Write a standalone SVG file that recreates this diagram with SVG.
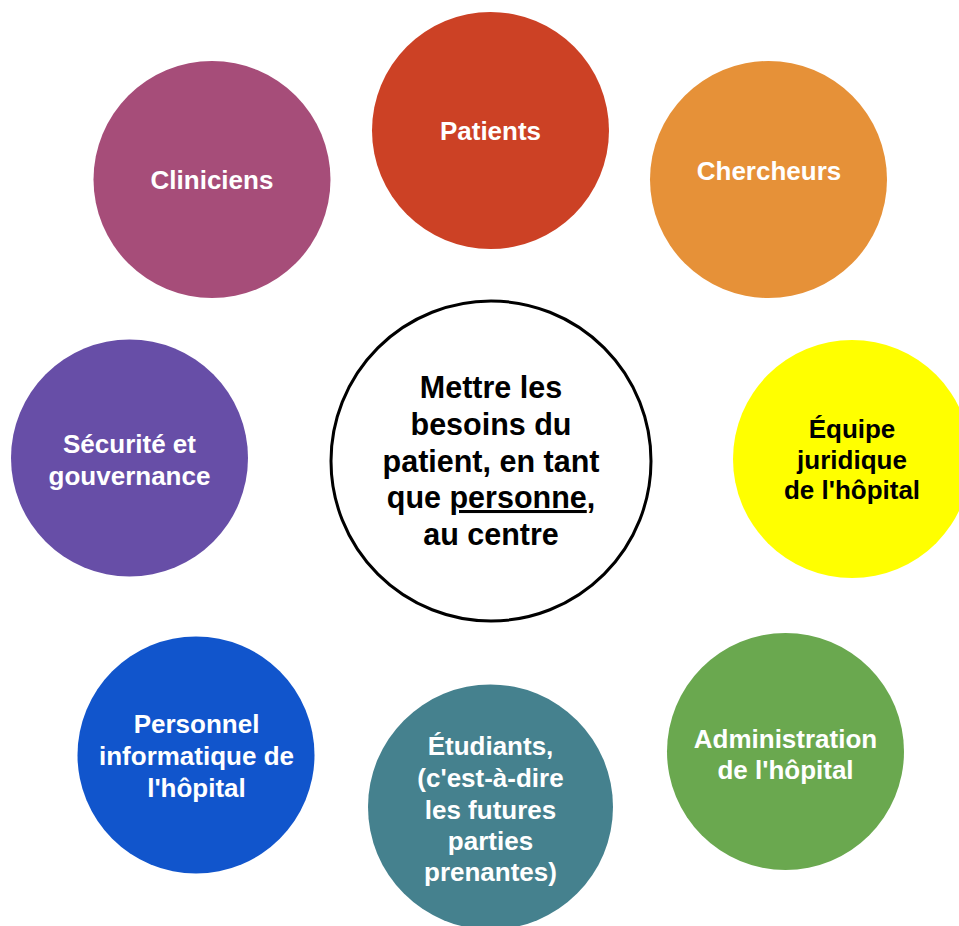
<svg xmlns="http://www.w3.org/2000/svg" width="959" height="926" viewBox="0 0 959 926">
<style>
text{font-family:"Liberation Sans",Arial,sans-serif;font-weight:bold;text-anchor:middle}
.w{fill:#ffffff;font-size:26px}
.k{fill:#000000;font-size:26px}
.c{fill:#000000;font-size:30.5px}
.u{text-decoration:underline}
</style>
<rect width="959" height="926" fill="#ffffff"/>
<g id="connectors"></g>
<g id="patients">
<circle cx="490.5" cy="130.5" r="118.5" fill="#CC4125"/>
<text class="w" x="490.5" y="140">Patients</text>
</g>
<g id="chercheurs">
<circle cx="768.5" cy="179.5" r="118.5" fill="#E69138"/>
<text class="w" x="769" y="179.5">Chercheurs</text>
</g>
<g id="cliniciens">
<circle cx="212" cy="179.5" r="118.5" fill="#A64D79"/>
<text class="w" x="212" y="189">Cliniciens</text>
</g>
<g id="securite">
<circle cx="129.5" cy="458" r="118.5" fill="#674EA7"/>
<text class="w" x="129.5" y="452.5"><tspan x="129.5">Sécurité et</tspan><tspan x="129.5" y="484.5">gouvernance</tspan></text>
</g>
<g id="equipe">
<circle cx="852" cy="459" r="119" fill="#FFFF00"/>
<text class="k" x="852" y="437.5"><tspan x="852">Équipe</tspan><tspan x="852" y="468.5">juridique</tspan><tspan x="852" y="499">de l'hôpital</tspan></text>
</g>
<g id="personnel">
<circle cx="196" cy="755" r="118.5" fill="#1155CC"/>
<text class="w" x="196.5" y="733"><tspan x="196.5">Personnel</tspan><tspan x="196.5" y="764.5">informatique de</tspan><tspan x="196.5" y="796.5">l'hôpital</tspan></text>
</g>
<g id="administration">
<circle cx="785.5" cy="751.5" r="118.5" fill="#6AA84F"/>
<text class="w" x="785.5" y="747.5"><tspan x="785.5">Administration</tspan><tspan x="785.5" y="779">de l'hôpital</tspan></text>
</g>
<g id="etudiants">
<circle cx="490.5" cy="807" r="122.5" fill="#45818E"/>
<text class="w" x="490.5" y="755"><tspan x="490.5">Étudiants,</tspan><tspan x="490.5" y="787">(c'est-à-dire</tspan><tspan x="490.5" y="818.5">les futures</tspan><tspan x="490.5" y="850">parties</tspan><tspan x="490.5" y="881">prenantes)</tspan></text>
</g>
<g id="centre">
<circle cx="491" cy="461" r="160" fill="#ffffff" stroke="#000000" stroke-width="3"/>
<text class="c" x="491" y="398"><tspan x="491">Mettre les</tspan><tspan x="491" y="435">besoins du</tspan><tspan x="491" y="471.5">patient, en tant</tspan><tspan x="491" y="508">que <tspan class="u">personne</tspan>,</tspan><tspan x="491" y="545">au centre</tspan></text>
</g>
</svg>
